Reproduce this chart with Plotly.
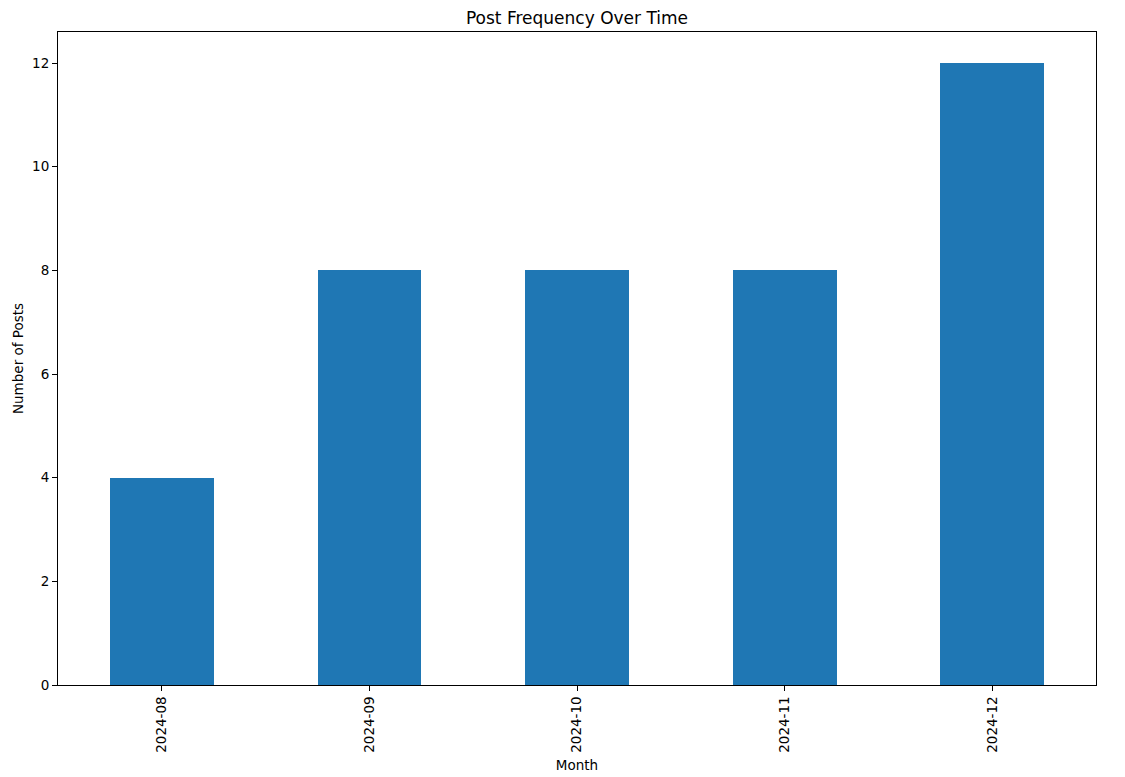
import plotly.graph_objects as go

months = ["2024-08", "2024-09", "2024-10", "2024-11", "2024-12"]
posts = [4, 8, 8, 8, 12]
y_ticks = [0, 2, 4, 6, 8, 10, 12]

fig = go.Figure(go.Bar(
    x=list(range(len(months))), y=posts, width=0.5,
    marker=dict(color="#1f77b4", line=dict(width=0)),
))

font = "DejaVu Sans"
fig.update_layout(
    width=1125, height=777,
    margin=dict(l=58, r=29, t=32, b=92),
    paper_bgcolor="white", plot_bgcolor="white",
    font=dict(family=font, size=13.5, color="black"),
    title=dict(text="Post Frequency Over Time", x=0.5, xanchor="center",
               xref="paper", y=1 - 18/777, yanchor="middle",
               font=dict(family=font, size=17, color="black")),
    showlegend=False,
    bargap=0,
)
fig.update_xaxes(
    range=[-0.5, 4.5], tickmode="array", tickvals=list(range(len(months))),
    ticktext=months, tickangle=-90, ticks="outside", ticklen=5, tickwidth=1,
    tickcolor="black", showline=True, linecolor="black", linewidth=1, mirror=True,
    showgrid=False, zeroline=False, automargin=False,
    title=dict(text="Month", font=dict(family=font, size=13.5), standoff=8),
)
fig.update_yaxes(
    range=[0, 12.6], tickmode="array", tickvals=y_ticks,
    ticks="outside", ticklen=5, tickwidth=1, tickcolor="black",
    showline=True, linecolor="black", linewidth=1, mirror=True,
    showgrid=False, zeroline=False, automargin=False,
    title=dict(text="Number of Posts", font=dict(family=font, size=13.5), standoff=5),
)

fig.write_html("out.html", config={"displayModeBar": False},
               post_script="document.body.style.margin='0px';")
